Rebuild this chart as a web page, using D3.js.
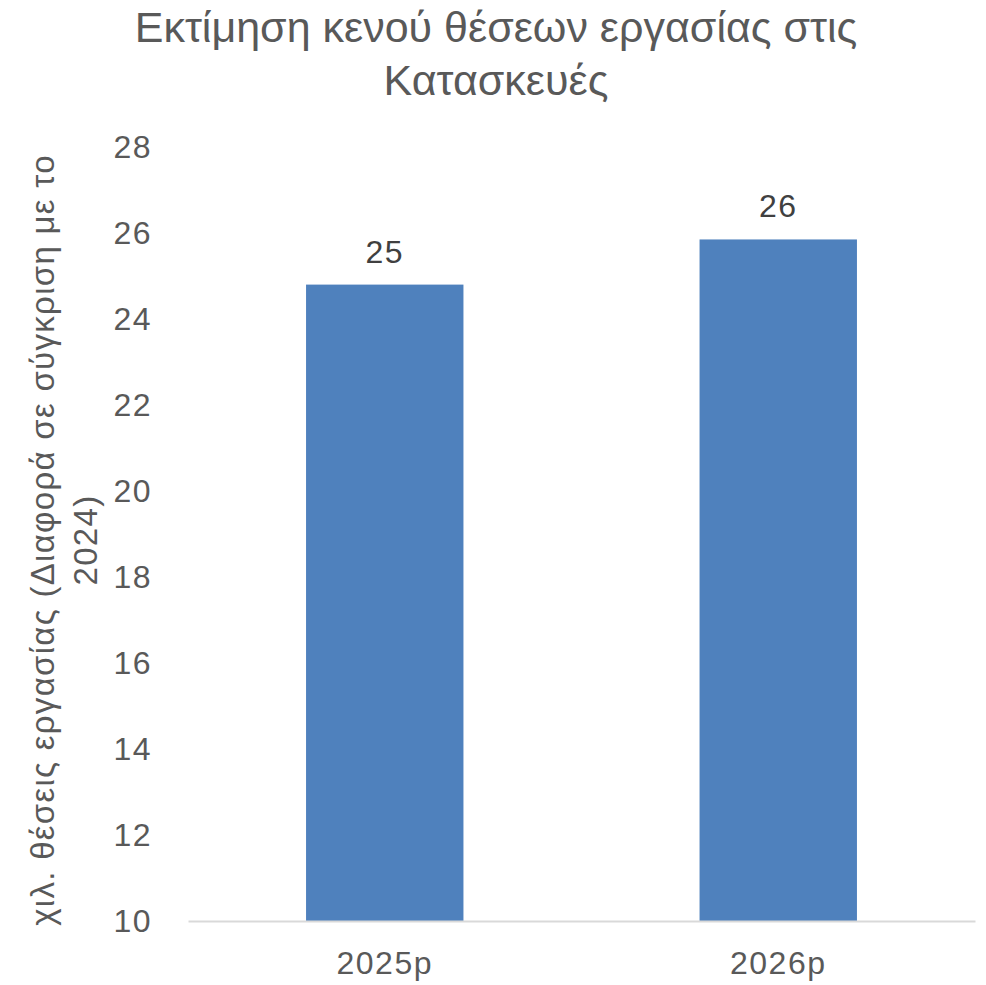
<!DOCTYPE html>
<html>
<head>
<meta charset="utf-8">
<script src="https://cdn.jsdelivr.net/npm/d3@7"></script>
<style>
  body { margin: 0; background: #fff; }
  text { font-family: "Liberation Sans", Arial, sans-serif; }
</style>
</head>
<body>
<div id="chart"></div>
<script>
const categories = ["2025p", "2026p"];
const values = [24.8, 25.85];
const labels = ["25", "26"];
const yTicks = [10, 12, 14, 16, 18, 20, 22, 24, 26, 28];
const titleLines = ["Εκτίμηση κενού θέσεων εργασίας στις", "Κατασκευές"];
const yTitleLines = ["χιλ. θέσεις εργασίας (Διαφορά σε σύγκριση με το", "2024)"];

const W = 986, H = 985;
const margin = { top: 147, right: 11, bottom: 64, left: 188 };
const width = W - margin.left - margin.right,
  height = H - margin.top - margin.bottom;

const svg = d3.select("#chart").append("svg")
  .attr("width", W).attr("height", H);

const g = svg.append("g")
  .attr("transform", "translate(" + margin.left + "," + margin.top + ")");

const x = d3.scaleBand().domain(categories).range([0, width])
  .paddingInner(0.6).paddingOuter(0.3);
const y = d3.scaleLinear().domain([10, 28]).range([height, 0]);

// bars
g.selectAll("rect.bar")
  .data(values)
  .enter().append("rect")
  .attr("class", "bar")
  .attr("x", (d, i) => x(categories[i]))
  .attr("y", d => y(d))
  .attr("width", x.bandwidth())
  .attr("height", d => height - y(d))
  .style("fill", "#4f81bd");

// data labels
g.selectAll("text.lbl")
  .data(values)
  .enter().append("text")
  .attr("class", "lbl")
  .attr("x", (d, i) => x(categories[i]) + x.bandwidth() / 2)
  .attr("y", d => y(d) - 22)
  .attr("text-anchor", "middle")
  .style("font-size", "32px")
  .style("letter-spacing", "1.5px")
  .style("fill", "#404040")
  .text((d, i) => labels[i]);

// y axis
const yAxis = g.append("g")
  .call(d3.axisLeft(y).tickValues(yTicks).tickSize(0).tickPadding(36));
yAxis.select(".domain").remove();
yAxis.selectAll("text")
  .style("font-size", "32px")
  .style("letter-spacing", "1.5px")
  .style("fill", "#595959")
  .style("font-family", "Liberation Sans, Arial, sans-serif");

// x axis
const xAxis = g.append("g")
  .attr("transform", "translate(0," + height + ")")
  .call(d3.axisBottom(x).tickSize(0).tickPadding(30));
xAxis.select(".domain").attr("stroke", "#d9d9d9").attr("stroke-width", 2);
xAxis.selectAll("text")
  .style("font-size", "32px")
  .style("letter-spacing", "1.5px")
  .style("fill", "#595959")
  .style("font-family", "Liberation Sans, Arial, sans-serif");

// title
svg.append("g").selectAll("text")
  .data(titleLines)
  .enter().append("text")
  .attr("x", 496)
  .attr("y", (d, i) => 42 + i * 53)
  .attr("text-anchor", "middle")
  .style("font-size", "43px")
  .style("fill", "#595959")
  .text(d => d);

// y axis title
svg.append("g")
  .attr("transform", "translate(0,540) rotate(-90)")
  .selectAll("text")
  .data(yTitleLines)
  .enter().append("text")
  .attr("x", 0)
  .attr("y", (d, i) => 54 + i * 43)
  .attr("text-anchor", "middle")
  .style("font-size", "33px")
  .style("letter-spacing", "1.3px")
  .style("fill", "#595959")
  .text(d => d);
</script>
</body>
</html>
